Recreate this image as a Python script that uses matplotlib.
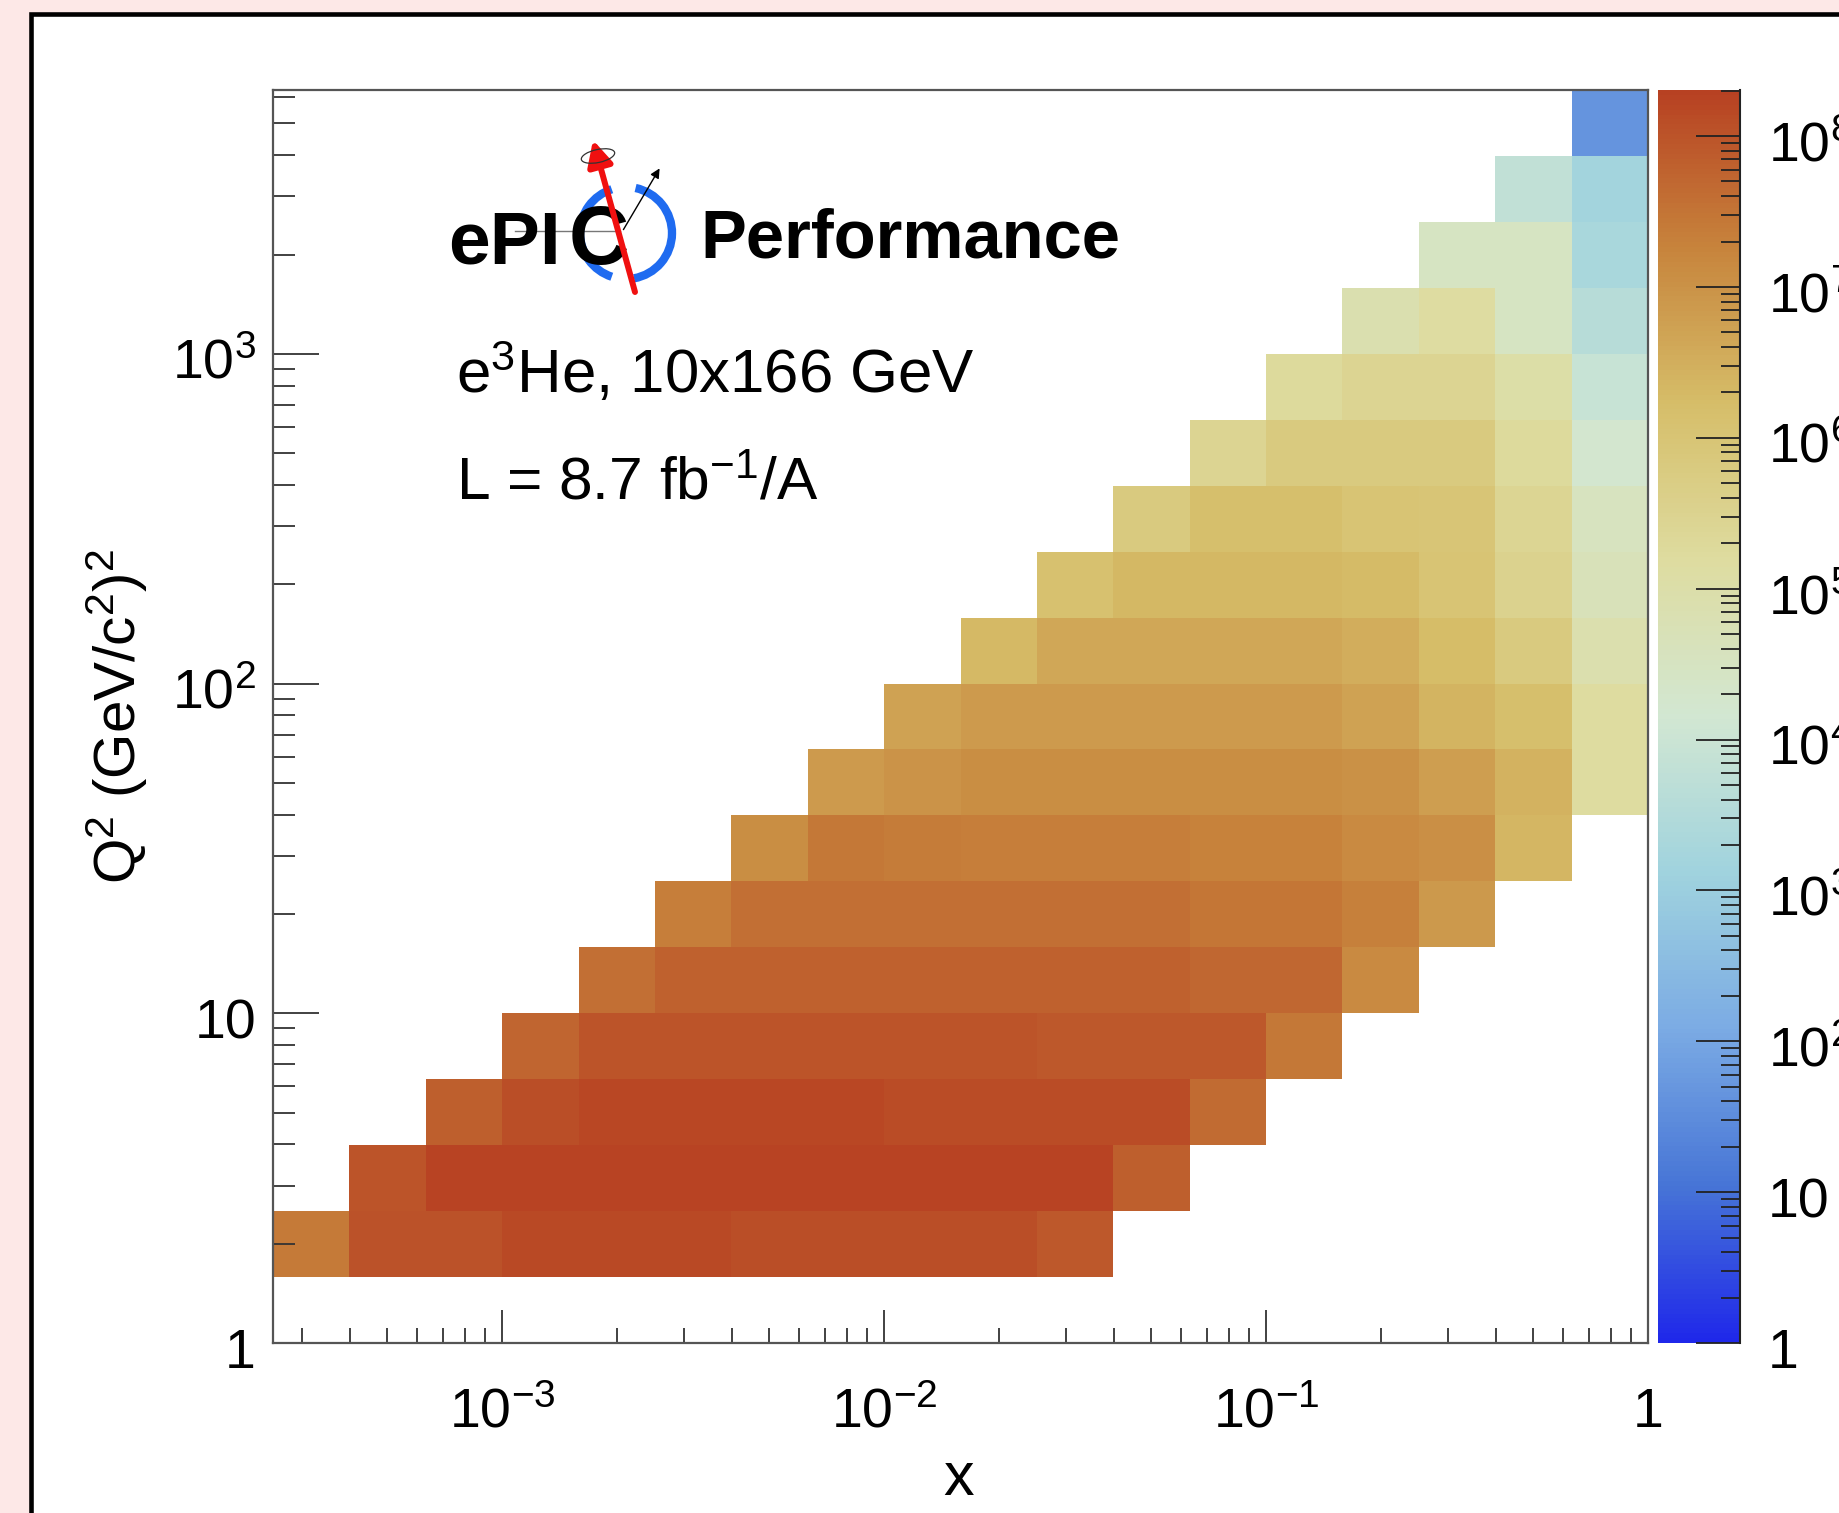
import numpy as np
import matplotlib
matplotlib.use("Agg")
import matplotlib.pyplot as plt
from matplotlib.colors import LinearSegmentedColormap, LogNorm
from matplotlib.patches import Rectangle, Arc, Ellipse
from matplotlib.ticker import FixedLocator, LogLocator, NullFormatter
from matplotlib.transforms import offset_copy

plt.rcParams['font.family'] = ['Liberation Sans', 'DejaVu Sans']
plt.rcParams['mathtext.fontset'] = 'custom'
plt.rcParams['mathtext.rm'] = 'Liberation Sans'
plt.rcParams['mathtext.it'] = 'Liberation Sans:italic'
plt.rcParams['mathtext.bf'] = 'Liberation Sans:bold'
plt.rcParams['mathtext.default'] = 'regular'

# ---- data -------------------------------------------------------------
# bin edges, log10 of x and of Q^2
x_edge_exp = [-3.6, -3.4, -3.2, -3.0, -2.8, -2.6, -2.4, -2.2, -2.0, -1.8,
              -1.6, -1.4, -1.2, -1.0, -0.8, -0.6, -0.4, -0.2, 0.0]
q2_edge_exp = [0.0, 0.2, 0.4, 0.6, 0.8, 1.0, 1.2, 1.4, 1.6, 1.8, 2.0,
               2.2, 2.4, 2.6, 2.8, 3.0, 3.2, 3.4, 3.6, 3.8]

# first filled x bin for every Q^2 bin (None = empty row)
first_x_bin = [None, 0, 1, 2, 3, 4, 5, 6, 7, 8, 9, 10, 11, 12, 13, 14, 15, 16, 17]

# log10(counts) of the filled bins, one list per Q^2 bin
log10_counts = [
    [],
    [7.42, 8.04, 8.04, 8.15, 8.15, 8.15, 8.10, 8.10, 8.10, 8.10, 7.94],
    [7.99, 8.25, 8.25, 8.25, 8.25, 8.25, 8.25, 8.25, 8.25, 8.25, 7.84],
    [7.84, 8.10, 8.18, 8.18, 8.18, 8.18, 8.12, 8.12, 8.12, 8.12, 7.63],
    [7.73, 8.01, 7.99, 7.99, 7.99, 7.99, 8.01, 7.94, 7.94, 7.94, 7.45],
    [7.58, 7.81, 7.81, 7.81, 7.81, 7.79, 7.79, 7.79, 7.70, 7.70, 7.16],
    [7.33, 7.58, 7.58, 7.58, 7.56, 7.56, 7.56, 7.49, 7.49, 7.31, 6.88],
    [7.09, 7.45, 7.37, 7.33, 7.33, 7.33, 7.29, 7.27, 7.16, 7.06, 6.38],
    [6.85, 6.98, 7.09, 7.09, 7.09, 7.09, 7.09, 7.02, 6.80, 6.44, 5.19],
    [6.73, 6.84, 6.84, 6.84, 6.84, 6.84, 6.73, 6.40, 6.16, 5.19],
    [6.31, 6.62, 6.62, 6.62, 6.62, 6.54, 6.23, 5.81, 4.90],
    [6.12, 6.33, 6.33, 6.33, 6.28, 6.02, 5.53, 4.67],
    [5.81, 6.16, 6.16, 6.02, 5.97, 5.43, 4.55],
    [5.45, 5.81, 5.81, 5.81, 5.27, 4.21],
    [5.27, 5.45, 5.45, 5.02, 3.94],
    [4.86, 5.15, 4.48, 3.61],
    [4.48, 4.48, 3.32],
    [3.78, 3.16],
    [1.63],
]

z_min, z_max = 1.0, 2.02e8

x_tick_vals = [1e-3, 1e-2, 1e-1, 1.0]
x_tick_text = [r'$10^{-3}$', r'$10^{-2}$', r'$10^{-1}$', '1']
y_tick_vals = [1.0, 10.0, 100.0, 1000.0]
y_tick_text = ['1', '10', r'$10^{2}$', r'$10^{3}$']
z_tick_vals = [1.0, 1e1, 1e2, 1e3, 1e4, 1e5, 1e6, 1e7, 1e8]
z_tick_text = ['1', '10', r'$10^{2}$', r'$10^{3}$', r'$10^{4}$', r'$10^{5}$',
               r'$10^{6}$', r'$10^{7}$', r'$10^{8}$']

# ROOT kLightTemperature palette
palette = np.array([(31, 40, 234), (71, 117, 214), (123, 171, 228), (160, 211, 222),
                    (210, 231, 210), (222, 220, 160), (214, 190, 105), (199, 132, 60),
                    (183, 65, 34)]) / 255.0
cmap = LinearSegmentedColormap.from_list('light_temperature', palette, N=255)

# ---- build histogram --------------------------------------------------
x_edges = 10.0 ** np.array(x_edge_exp)
q2_edges = 10.0 ** np.array(q2_edge_exp)
grid = np.full((len(q2_edges) - 1, len(x_edges) - 1), np.nan)
for j, (start, vals) in enumerate(zip(first_x_bin, log10_counts)):
    if start is None:
        continue
    grid[j, start:start + len(vals)] = 10.0 ** np.array(vals)
grid = np.ma.masked_invalid(grid)

# ---- figure -----------------------------------------------------------
W, H = 1839, 1513
fig = plt.figure(figsize=(W / 100, H / 100), dpi=100)
fig.patch.set_facecolor('#fde8e7')

bg = fig.add_axes([0, 0, 1, 1], zorder=0)
bg.set_xlim(0, W)
bg.set_ylim(H, 0)
bg.axis('off')
bg.add_patch(Rectangle((31, 13.5), 5000, 5000, facecolor='white',
                       edgecolor='black', lw=3.3))

ax = fig.add_axes([273 / W, 1 - 1343 / H, 1375 / W, 1253 / H], zorder=1)
cax = fig.add_axes([1658 / W, 1 - 1343 / H, 82 / W, 1253 / H], zorder=1)

norm = LogNorm(vmin=z_min, vmax=z_max)
mesh = ax.pcolormesh(x_edges, q2_edges, grid, cmap=cmap, norm=norm,
                     shading='flat', antialiased=False, linewidth=0)
ax.set_xscale('log')
ax.set_yscale('log')
ax.set_xlim(x_edges[0], x_edges[-1])
ax.set_ylim(q2_edges[0], q2_edges[-1])

for sp in ax.spines.values():
    sp.set_color('#555555')
    sp.set_linewidth(1.6)

ax.xaxis.set_major_locator(FixedLocator(x_tick_vals))
ax.xaxis.set_minor_locator(LogLocator(base=10, subs=np.arange(2, 10), numticks=100))
ax.yaxis.set_major_locator(FixedLocator(y_tick_vals))
ax.yaxis.set_minor_locator(LogLocator(base=10, subs=np.arange(2, 10), numticks=100))
ax.xaxis.set_minor_formatter(NullFormatter())
ax.yaxis.set_minor_formatter(NullFormatter())
ax.tick_params(labelbottom=False, labelleft=False, top=False, right=False,
               which='both', direction='in', color='#333333', width=1.3)
ax.tick_params(axis='x', which='major', length=24)
ax.tick_params(axis='x', which='minor', length=11)
ax.tick_params(axis='y', which='major', length=33)
ax.tick_params(axis='y', which='minor', length=16)

xt = offset_copy(ax.get_xaxis_transform(), fig=fig, y=-84, units='dots')
for v, s in zip(x_tick_vals, x_tick_text):
    ax.text(v, 0, s, transform=xt, ha='center', va='baseline', fontsize=40)
yt = offset_copy(ax.get_yaxis_transform(), fig=fig, x=-17, y=-25, units='dots')
for v, s in zip(y_tick_vals, y_tick_text):
    ax.text(0, v, s, transform=yt, ha='right', va='baseline', fontsize=40)

ax.text(0.4989, -0.1213, 'x', transform=ax.transAxes, ha='center',
        va='baseline', fontsize=44)
ax.text(-0.1135, 0.5, r'Q$^{2}$ (GeV/c$^{2}$)$^{2}$', transform=ax.transAxes,
        rotation=90, ha='center', va='center', fontsize=42)

# colour bar
cbar = fig.colorbar(mesh, cax=cax)
cbar.outline.set_visible(False)
cax.yaxis.set_ticks_position('right')
cax.yaxis.set_major_locator(FixedLocator(z_tick_vals))
cax.yaxis.set_minor_locator(LogLocator(base=10, subs=np.arange(2, 10), numticks=100))
cax.yaxis.set_minor_formatter(NullFormatter())
cax.tick_params(labelright=False, labelleft=False, which='both',
                direction='in', color='#222222', width=1.3)
cax.tick_params(which='major', length=32)
cax.tick_params(which='minor', length=14)
cax.plot([1, 1], [0, 1], transform=cax.transAxes, color='#222222', lw=1.5,
         clip_on=False)
zt = offset_copy(cax.get_yaxis_transform(), fig=fig, x=110, y=-25, units='dots')
for v, s in zip(z_tick_vals, z_tick_text):
    cax.text(0, v, s, transform=zt, ha='left', va='baseline', fontsize=40)

# ---- logo and labels (pixel coordinates) -------------------------------
lg = fig.add_axes([0, 0, 1, 1], zorder=3)
lg.set_xlim(0, W)
lg.set_ylim(H, 0)
lg.axis('off')
lg.patch.set_alpha(0)

lg.plot([515, 620], [231, 231], color='#777777', lw=1.0, zorder=2)
lg.add_patch(Arc((626, 233), 92, 92, theta1=108, theta2=252, color='#1f6bf0',
                 lw=6, zorder=2))
lg.add_patch(Arc((626, 233), 92, 92, theta1=-78, theta2=80, color='#1f6bf0',
                 lw=6, zorder=2))
lg.text(448, 263, 'ePI', fontsize=54, fontweight='bold', ha='left',
        va='baseline', zorder=3)
lg.text(569, 264, 'C', fontsize=60, fontweight='bold', ha='left',
        va='baseline', zorder=3)
lg.annotate('', xy=(661, 166), xytext=(622, 232),
            arrowprops=dict(arrowstyle='-|>', color='black', lw=1.0,
                            mutation_scale=14), zorder=4)
lg.annotate('', xy=(593, 140), xytext=(635, 292),
            arrowprops=dict(arrowstyle='-|>', color='#f01010', lw=4.3,
                            mutation_scale=38, shrinkA=0, shrinkB=0), zorder=5)
lg.add_patch(Ellipse((598, 156), 34, 13, angle=-12, fill=False,
                     edgecolor='#333333', lw=0.9, zorder=6))
lg.text(700, 258, 'Performance', fontsize=49.5, fontweight='bold', ha='left',
        va='baseline')
lg.text(456, 393, r'e$^{3}$He, 10x166 GeV', fontsize=44.5, ha='left', va='baseline')
lg.text(456, 500, r'L = 8.7 fb$^{-1}$/A', fontsize=43.5, ha='left', va='baseline')

fig.savefig('out.png', dpi=100, facecolor=fig.get_facecolor())
